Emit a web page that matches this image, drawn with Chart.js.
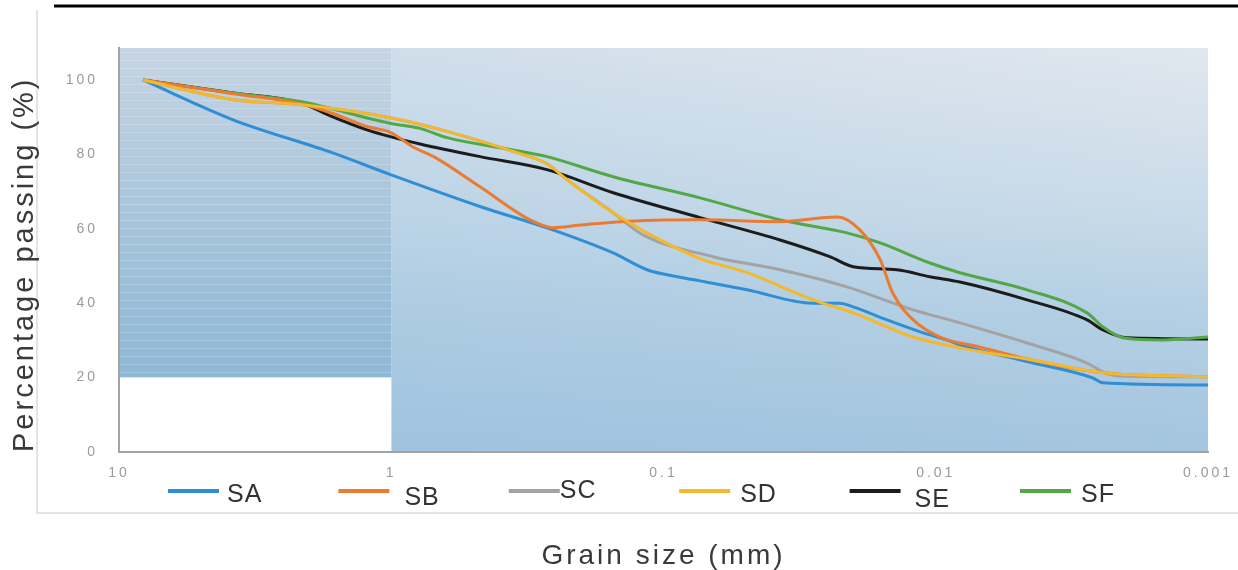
<!DOCTYPE html>
<html><head><meta charset="utf-8">
<script src="https://cdn.jsdelivr.net/npm/chart.js@4.4.1/dist/chart.umd.min.js"></script>
<style>html,body{margin:0;padding:0;background:#fff;overflow:hidden}#wrap{width:1238px;height:570px;position:relative}</style>
</head><body><div id="wrap"><canvas id="c" width="1238" height="570"></canvas></div>
<script>
// ---- data (grain size in mm, percentage passing) ----
const seriesNames = ['SA', 'SB', 'SC', 'SD', 'SE', 'SF'];
const seriesColors = ['#2f8ed4', '#ec7b32', '#a3a3a3', '#f3b82c', '#1c1c1c', '#52a847'];

const saSize = [8.16, 3.81, 1.64, 1.0, 0.472, 0.255, 0.153, 0.115, 0.087, 0.0734, 0.0493, 0.0282, 0.0225, 0.0201, 0.0151, 0.0114, 0.0091, 0.00815, 0.00462, 0.00265, 0.00243, 0.001];
const saPass = [100, 89.3, 80.4, 74.5, 66.0, 59.7, 53.5, 49.0, 47.0, 46.0, 43.6, 40.0, 40.0, 39.0, 35.5, 32.3, 30.1, 28.8, 24.3, 19.9, 18.6, 18.0];

const sbSize = [8.16, 3.81, 2.16, 1.64, 1.228, 1.0, 0.832, 0.691, 0.472, 0.309, 0.255, 0.203, 0.1327, 0.0734, 0.0373, 0.023, 0.019, 0.016, 0.0144, 0.0121, 0.00965, 0.00688, 0.00462, 0.00243, 0.001];
const sbPass = [100, 96.3, 93.6, 91.0, 87.5, 85.8, 82.0, 79.2, 71.3, 62.4, 60.3, 61.0, 62.0, 62.4, 61.9, 63.2, 59.7, 51.7, 42.8, 35.5, 30.9, 28.2, 25.0, 21.3, 20.2];

const scSize = [8.16, 3.81, 2.16, 1.0, 0.624, 0.357, 0.268, 0.226, 0.153, 0.12, 0.0658, 0.0373, 0.0212, 0.0121, 0.00815, 0.00462, 0.00278, 0.00243, 0.0021, 0.001];
const scPass = [100, 94.7, 93.4, 89.8, 86.2, 80.8, 77.5, 73.2, 64.3, 58.5, 52.5, 49.0, 44.4, 38.2, 34.7, 29.3, 23.9, 21.5, 20.4, 20.2];

const sdSize = [8.16, 3.81, 2.16, 1.0, 0.624, 0.357, 0.268, 0.226, 0.153, 0.115, 0.0734, 0.0493, 0.0282, 0.0201, 0.0121, 0.00688, 0.00462, 0.00243, 0.001];
const sdPass = [100, 94.7, 93.4, 89.8, 86.2, 80.8, 77.5, 73.2, 64.3, 58.9, 52.0, 48.2, 40.9, 37.4, 30.9, 27.0, 25.0, 21.3, 20.2];

const seSize = [8.16, 3.81, 2.16, 1.64, 1.228, 1.0, 0.784, 0.472, 0.268, 0.153, 0.0734, 0.0373, 0.0245, 0.0201, 0.0139, 0.0105, 0.00815, 0.00462, 0.00278, 0.00243, 0.00198, 0.001];
const sePass = [100, 96.5, 93.9, 90.1, 86.6, 84.7, 82.8, 79.4, 75.9, 69.7, 63.0, 57.0, 52.5, 49.8, 49.0, 47.1, 45.7, 40.9, 35.5, 32.8, 30.7, 30.4];

const sfSize = [8.16, 3.81, 2.16, 1.0, 0.784, 0.624, 0.357, 0.268, 0.153, 0.0734, 0.0373, 0.0212, 0.016, 0.0105, 0.00815, 0.00462, 0.00278, 0.00243, 0.00205, 0.0015, 0.001];
const sfPass = [100, 96.5, 94.2, 88.3, 87.0, 84.5, 81.2, 79.4, 74.0, 68.3, 62.4, 58.9, 56.2, 50.8, 48.2, 43.6, 37.4, 33.6, 30.7, 30.1, 30.9];

const xTickValues = [10, 1, 0.1, 0.01, 0.001];
const xTickLabels = ['10', '1', '0.1', '0.01', '0.001'];
const yTickValues = [0, 20, 40, 60, 80, 100];
const yTickLabels = ['0', '20', '40', '60', '80', '100'];
const xTitle = 'Grain size (mm)';
const yTitle = 'Percentage passing (%)';

// ---- build datasets ----
const sizes = [saSize, sbSize, scSize, sdSize, seSize, sfSize];
const passes = [saPass, sbPass, scPass, sdPass, sePass, sfPass];
const drawOrder = [6, 2, 5, 1, 4, 3];
const datasets = seriesNames.map((name, i) => ({
  label: name,
  data: sizes[i].map((s, j) => ({x: s, y: passes[i][j]})),
  borderColor: seriesColors[i],
  backgroundColor: seriesColors[i],
  borderWidth: 3,
  pointRadius: 0,
  pointHoverRadius: 0,
  fill: false,
  cubicInterpolationMode: 'monotone',
  order: drawOrder[i]
}));

const FONT = '"Liberation Sans", Arial, sans-serif';
const SPACING = '3px';

const spacingPlugin = {
  id: 'spacing',
  beforeUpdate(chart) { chart.ctx.letterSpacing = SPACING; },
  beforeLayout(chart) { chart.ctx.letterSpacing = SPACING; },
  beforeDraw(chart) { chart.ctx.letterSpacing = SPACING; }
};

const backgroundPlugin = {
  id: 'bg',
  beforeDraw(chart) {
    const ctx = chart.ctx;
    const {left, right, top, bottom} = chart.chartArea;
    const xs = chart.scales.x, ys = chart.scales.y;
    const xOne = xs.getPixelForValue(1);
    const y20 = ys.getPixelForValue(20);
    ctx.save();
    // outer panel frame
    ctx.strokeStyle = '#e4e4e4';
    ctx.lineWidth = 2;
    ctx.beginPath();
    ctx.moveTo(37, 10); ctx.lineTo(37, 513); ctx.lineTo(chart.width, 513);
    ctx.stroke();
    // document rule line at top
    ctx.strokeStyle = '#000';
    ctx.lineWidth = 3;
    ctx.beginPath(); ctx.moveTo(54, 6); ctx.lineTo(chart.width, 6); ctx.stroke();

    // right region gradient
    const g = ctx.createLinearGradient(0, top, 0, bottom);
    g.addColorStop(0, '#e1e7ee');
    g.addColorStop(0.4, '#c9dbe9');
    g.addColorStop(0.65, '#b5d0e4');
    g.addColorStop(1, '#a4c5df');
    ctx.fillStyle = g;
    ctx.fillRect(xOne, top, right - xOne, bottom - top);
    const gh = ctx.createLinearGradient(xOne, 0, right, 0);
    gh.addColorStop(0, 'rgba(140,185,220,0.2)');
    gh.addColorStop(1, 'rgba(140,185,220,0)');
    ctx.fillStyle = gh;
    ctx.fillRect(xOne, top, right - xOne, bottom - top);

    // left striped region
    const gl = ctx.createLinearGradient(0, top, 0, y20);
    gl.addColorStop(0, '#c6d5e3');
    gl.addColorStop(0.5, '#a8c5dc');
    gl.addColorStop(1, '#8db8d6');
    ctx.fillStyle = gl;
    ctx.fillRect(left, top, xOne - left, y20 - top);
    ctx.fillStyle = 'rgba(255,255,255,0.2)';
    for (let y = top + 4; y < y20; y += 8) {
      ctx.fillRect(left, Math.round(y), xOne - left, 1);
    }
    // white block below 20 %
    ctx.fillStyle = '#ffffff';
    ctx.fillRect(left, y20, xOne - left, bottom - y20);
    ctx.restore();
  }
};

const legendPlugin = {
  id: 'customLegend',
  afterDraw(chart) {
    const ctx = chart.ctx;
    const startX = 168, step = 170.4, lineLen = 51, lineY = 491;
    const dx = [59, 66, 51, 61, 65, 61];
    const baseY = [501.5, 505, 498, 501.5, 506.5, 501.5];
    ctx.save();
    ctx.letterSpacing = '1px';
    ctx.font = '25px ' + FONT;
    ctx.textAlign = 'left';
    ctx.textBaseline = 'alphabetic';
    chart.data.datasets.forEach((ds, i) => {
      const x0 = startX + i * step;
      ctx.strokeStyle = ds.borderColor;
      ctx.lineWidth = 4;
      ctx.beginPath(); ctx.moveTo(x0, lineY); ctx.lineTo(x0 + lineLen, lineY); ctx.stroke();
      ctx.fillStyle = '#333333';
      ctx.fillText(ds.label, x0 + dx[i], baseY[i]);
    });
    ctx.restore();
  }
};

new Chart(document.getElementById('c'), {
  type: 'line',
  data: {datasets},
  options: {
    responsive: false,
    animation: false,
    events: [],
    layout: {padding: {left: 0, right: 30, top: 48, bottom: 0}},
    plugins: {legend: {display: false}, tooltip: {enabled: false}},
    scales: {
      x: {
        type: 'logarithmic',
        reverse: true,
        min: 0.001,
        max: 10,
        position: 'bottom',
        afterBuildTicks: s => { s.ticks = xTickValues.map(v => ({value: v})); },
        afterFit: s => { s.height = 118; s.paddingLeft = 0; s.paddingRight = 0; },
        ticks: {
          autoSkip: false, maxRotation: 0, minRotation: 0, padding: 13,
          color: '#9a9a9a', font: {family: FONT, size: 14},
          callback: (v, i) => xTickLabels[i]
        },
        grid: {display: false, drawTicks: false},
        border: {display: true, color: '#a3a3a3', width: 2},
        title: {display: true, text: xTitle, color: '#3a3a3a',
          font: {family: FONT, size: 28, lineHeight: 1}, padding: {top: 0, bottom: 0}}
      },
      y: {
        min: 0,
        max: 108.6,
        afterBuildTicks: s => { s.ticks = yTickValues.map(v => ({value: v})); },
        afterFit: s => { s.width = 119; s.paddingTop = 0; s.paddingBottom = 0; },
        ticks: {
          padding: 21, color: '#9a9a9a', font: {family: FONT, size: 14},
          callback: (v, i) => yTickLabels[i]
        },
        grid: {display: false, drawTicks: false},
        border: {display: true, color: '#a3a3a3', width: 2},
        title: {display: true, text: yTitle, color: '#3a3a3a', align: 'start',
          font: {family: FONT, size: 29, lineHeight: 1}, padding: {top: 10, bottom: 0}}
      }
    }
  },
  plugins: [spacingPlugin, backgroundPlugin, legendPlugin]
});
</script>
</body></html>
